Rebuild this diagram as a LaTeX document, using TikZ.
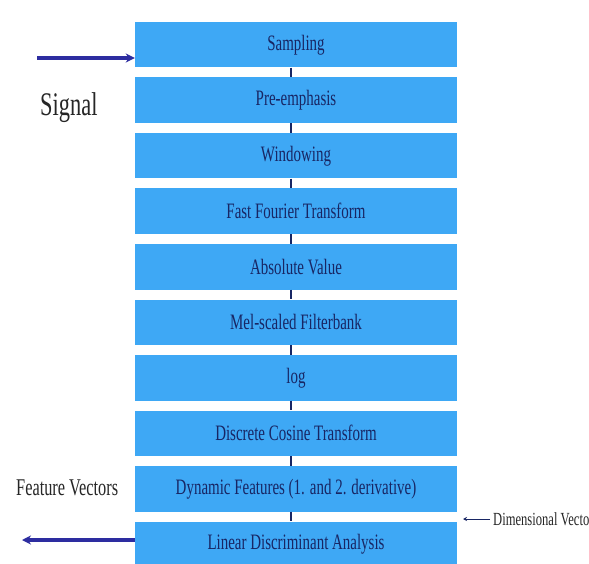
\documentclass[tikz,border=0pt]{standalone}
\usepackage{fontspec}
\setmainfont{Liberation Serif}[FakeStretch=0.68]
\usepackage{tikz}
\usetikzlibrary{arrows.meta}

\definecolor{boxblue}{RGB}{62,168,245}
\definecolor{navytext}{RGB}{24,38,100}
\definecolor{arrowblue}{RGB}{45,45,160}

\begin{document}
\begin{tikzpicture}[
  x=1pt, y=-1pt,
  stage/.style={fill=boxblue, draw=none, rectangle, minimum width=322pt, minimum height=45.5pt, inner sep=0pt, text=navytext, font=\fontsize{22}{24}\selectfont},
  link/.style={draw=navytext, line width=2pt},
  flow/.style={-{Stealth[length=9pt,width=9pt]}, line width=3.5pt, draw=arrowblue},
  thinarr/.style={-{Stealth[length=4pt,width=4pt]}, line width=0.7pt, draw=navytext},
  lab/.style={text=black!85, inner sep=0pt}
]
\useasboundingbox (0,0) rectangle (589,564);
\clip (0,0) rectangle (589,564);
\fill[white] (0,0) rectangle (589,564);

\node[stage] (s1) at (296,44.75) {Sampling};
\node[stage] (s2) at (296,100.25) {Pre-emphasis};
\node[stage] (s3) at (296,155.75) {Windowing};
\node[stage] (s4) at (296,211.25) {Fast Fourier Transform};
\node[stage] (s5) at (296,266.75) {Absolute Value};
\node[stage] (s6) at (296,322.25) {Mel-scaled Filterbank};
\node[stage] (s7) at (296,377.75) {log};
\node[stage] (s8) at (296,433.25) {Discrete Cosine Transform};
\node[stage] (s9) at (296,488.75) {Dynamic Features (1. and 2. derivative)};
\node[stage] (s10) at (296,544.25) {Linear Discriminant Analysis};

\node[lab, anchor=base west, font=\fontsize{33}{35}\selectfont] (signal) at (40,116) {Signal};
\node[lab, anchor=base west, font=\fontsize{24}{26}\selectfont] (featvec) at (16,495) {Feature Vectors};
\node[lab, anchor=west, font=\fontsize{18.5}{20}\selectfont] (dimvec) at (493,519) {Dimensional Vecto};

\coordinate (sigin) at (37,58);
\coordinate (fvout) at (22,540);
\coordinate (dimtip) at (463,519);

\draw[link] ([xshift=-5pt]s1.south) -- ([xshift=-5pt]s2.north);
\draw[link] ([xshift=-5pt]s2.south) -- ([xshift=-5pt]s3.north);
\draw[link] ([xshift=-5pt]s3.south) -- ([xshift=-5pt]s4.north);
\draw[link] ([xshift=-5pt]s4.south) -- ([xshift=-5pt]s5.north);
\draw[link] ([xshift=-5pt]s5.south) -- ([xshift=-5pt]s6.north);
\draw[link] ([xshift=-5pt]s6.south) -- ([xshift=-5pt]s7.north);
\draw[link] ([xshift=-5pt]s7.south) -- ([xshift=-5pt]s8.north);
\draw[link] ([xshift=-5pt]s8.south) -- ([xshift=-5pt]s9.north);
\draw[link] ([xshift=-5pt]s9.south) -- ([xshift=-5pt]s10.north);

\draw[flow] (sigin) -- (sigin -| s1.west);
\draw[flow] (fvout -| s10.west) -- (fvout);
\draw[thinarr] ([xshift=-3pt]dimvec.west) -- (dimtip);
\end{tikzpicture}
\end{document}
